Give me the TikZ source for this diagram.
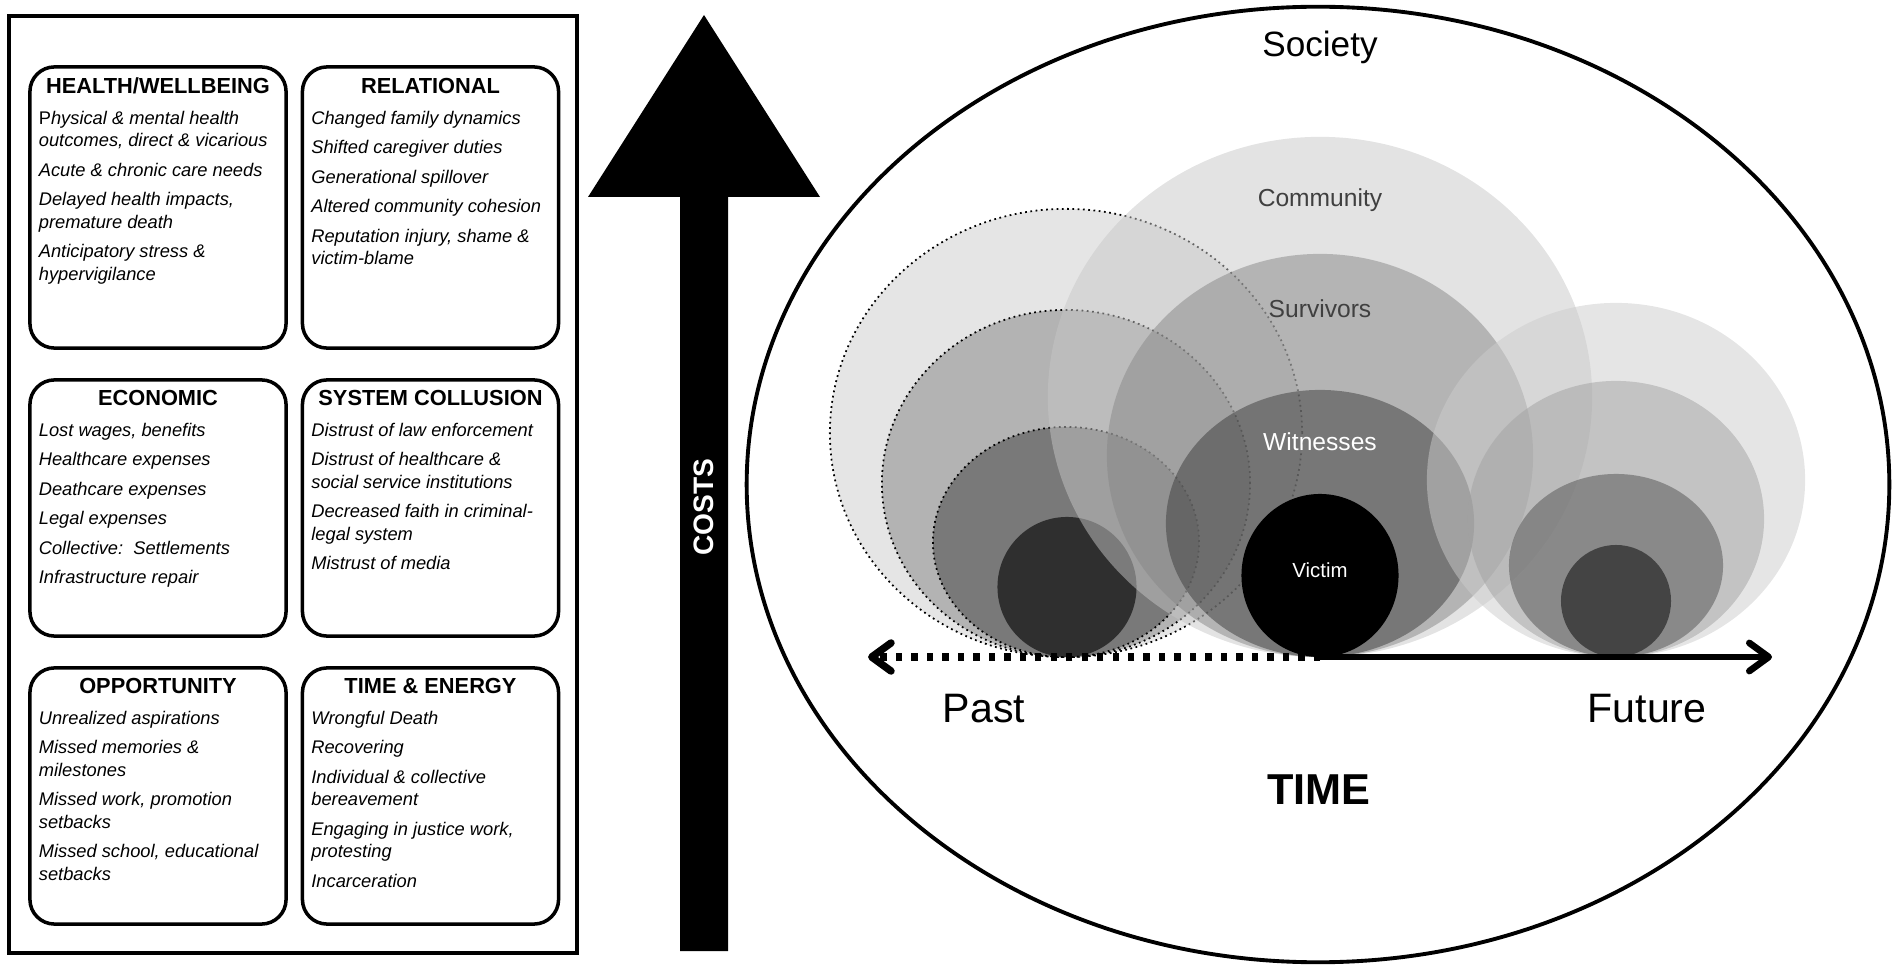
\documentclass[tikz,border=0pt]{standalone}
\usepackage{fontspec}
\setmainfont{Liberation Sans}
\usetikzlibrary{arrows.meta,positioning}

\definecolor{pastbig}{gray}{0.80}
\definecolor{pastmid}{gray}{0.51}
\definecolor{pastsmall}{gray}{0.25}
\definecolor{commgray}{gray}{0.78}
\definecolor{survgray}{gray}{0.53}
\definecolor{witgray}{gray}{0.23}
\definecolor{futbig}{gray}{0.80}
\definecolor{futmid}{gray}{0.63}
\definecolor{futsmall}{gray}{0.32}

\begin{document}
\begin{tikzpicture}[
    x=0.01cm, y=0.01cm,
    catbox/.style={draw, line width=1pt, rounded corners=7pt, inner sep=0pt, minimum width=2.56cm},
    cattitle/.style={anchor=base, inner sep=0pt, font=\fontsize{6.2}{7}\selectfont\bfseries},
    catbody/.style={anchor=north west, align=left, inner sep=0pt, font=\fontsize{5.2}{6.4}\selectfont\itshape},
    ring/.style={fill opacity=0.5},
    pastring/.style={ring, draw=black, line width=0.5pt, densely dotted},
    timeline/.style={line width=1.9pt, -{Straight Barb[length=5.5pt, width=8pt, round]}},
    lbl/.style={anchor=base, inner sep=0pt, font=\fontsize{7}{8}\selectfont}
  ]
  \useasboundingbox (0,0) rectangle (1902,972);

  % Frame round the cost categories
  \draw[line width=1pt] (9,19) rectangle (577,956);

  \node[catbox, minimum height=2.81cm] (health) at (158,764.5) {};
  \node[catbox, minimum height=2.81cm] (relational) at (430.5,764.5) {};
  \node[catbox, minimum height=2.56cm] (economic) at (158,464) {};
  \node[catbox, minimum height=2.56cm] (collusion) at (430.5,464) {};
  \node[catbox, minimum height=2.56cm] (opportunity) at (158,176) {};
  \node[catbox, minimum height=2.56cm] (energy) at (430.5,176) {};

  \node[cattitle] (healthtitle) at ([yshift=-0.28cm]health.north) {HEALTH/WELLBEING};
  \node[cattitle] (relationaltitle) at ([yshift=-0.28cm]relational.north) {RELATIONAL};
  \node[cattitle] (economictitle) at ([yshift=-0.27cm]economic.north) {ECONOMIC};
  \node[cattitle] (collusiontitle) at ([yshift=-0.27cm]collusion.north) {SYSTEM COLLUSION};
  \node[cattitle] (opportunitytitle) at ([yshift=-0.27cm]opportunity.north) {OPPORTUNITY};
  \node[cattitle] (energytitle) at ([yshift=-0.27cm]energy.north) {TIME \& ENERGY};

  \node[catbody] (healthtext) at ([xshift=0.1cm, yshift=-0.45cm]health.north west)
    {{\upshape P}hysical \& mental health\\ outcomes, direct \& vicarious\\[2pt]
     Acute \& chronic care needs\\[2pt]
     Delayed health impacts,\\ premature death\\[2pt]
     Anticipatory stress \&\\ hypervigilance};
  \node[catbody] (relationaltext) at ([xshift=0.1cm, yshift=-0.45cm]relational.north west)
    {Changed family dynamics\\[2pt]
     Shifted caregiver duties\\[2pt]
     Generational spillover\\[2pt]
     Altered community cohesion\\[2pt]
     Reputation injury, shame \&\\ victim-blame};
  \node[catbody] (economictext) at ([xshift=0.1cm, yshift=-0.44cm]economic.north west)
    {Lost wages, benefits\\[2pt]
     Healthcare expenses\\[2pt]
     Deathcare expenses\\[2pt]
     Legal expenses\\[2pt]
     Collective:\ \ Settlements\\[2pt]
     Infrastructure repair};
  \node[catbody] (collusiontext) at ([xshift=0.1cm, yshift=-0.44cm]collusion.north west)
    {Distrust of law enforcement\\[2pt]
     Distrust of healthcare \&\\ social service institutions\\[2pt]
     Decreased faith in criminal-\\ legal system\\[2pt]
     Mistrust of media};
  \node[catbody] (opportunitytext) at ([xshift=0.1cm, yshift=-0.44cm]opportunity.north west)
    {Unrealized aspirations\\[2pt]
     Missed memories \&\\ milestones\\[2pt]
     Missed work, promotion\\ setbacks\\[2pt]
     Missed school, educational\\ setbacks};
  \node[catbody] (energytext) at ([xshift=0.1cm, yshift=-0.44cm]energy.north west)
    {Wrongful Death\\[2pt]
     Recovering\\[2pt]
     Individual \& collective\\ bereavement\\[2pt]
     Engaging in justice work,\\ protesting\\[2pt]
     Incarceration};

  % Costs arrow
  \fill (704,957) -- (820,775) -- (728,775) -- (728,21) -- (680,21) -- (680,775) -- (588,775) -- cycle;
  \node[rotate=90, text=white, font=\fontsize{8}{9}\selectfont\bfseries] (costs) at (704,465) {COSTS};

  % Society
  \draw[line width=1.1pt] (1318,487.5) ellipse [x radius=5.71cm, y radius=4.775cm];
  \node[anchor=base, font=\fontsize{10}{12}\selectfont] (society) at (1320,915) {Society};

  % Past
  \path[pastring, fill=pastbig] (1066,539) ellipse [x radius=2.36cm, y radius=2.24cm];
  \path[pastring, fill=pastmid] (1066,488.5) ellipse [x radius=1.84cm, y radius=1.735cm];
  \path[pastring, fill=pastsmall] (1066,430) ellipse [x radius=1.33cm, y radius=1.15cm];
  \path[fill=black, fill opacity=0.6] (1067,385) ellipse [x radius=0.695cm, y radius=0.70cm];

  % Present
  \path[ring, fill=commgray] (1320,575) ellipse [x radius=2.72cm, y radius=2.60cm];
  \path[ring, fill=survgray] (1320,516.5) ellipse [x radius=2.13cm, y radius=2.015cm];
  \path[ring, fill=witgray] (1320,448.5) ellipse [x radius=1.54cm, y radius=1.335cm];
  \path[fill=black] (1320,396.5) ellipse [x radius=0.785cm, y radius=0.815cm];

  % Future
  \path[ring, fill=futbig] (1616,492) ellipse [x radius=1.89cm, y radius=1.77cm];
  \path[ring, fill=futmid] (1616,453) ellipse [x radius=1.48cm, y radius=1.38cm];
  \path[ring, fill=futsmall] (1616,406.5) ellipse [x radius=1.07cm, y radius=0.915cm];
  \path[fill=black, fill opacity=0.5] (1616,371) ellipse [x radius=0.55cm, y radius=0.56cm];

  \node[lbl, text=black!75] (community) at (1320,765) {Community};
  \node[lbl, text=black!75] (survivors) at (1320,654) {Survivors};
  \node[lbl, text=white] (witnesses) at (1320,521.5) {Witnesses};
  \node[lbl, text=white, font=\fontsize{5.8}{7}\selectfont] (victim) at (1320,394) {Victim};

  % Time line
  \coordinate (now) at (1320,315);
  \coordinate (pastend) at (868,315);
  \coordinate (futureend) at (1772,315);
  \draw[timeline, line width=2.1pt, dash pattern=on 1.8pt off 2.6pt] (now) -- (pastend);
  \draw[timeline] (now) -- (futureend);

  \node[anchor=base, font=\fontsize{11.7}{14}\selectfont] (pastlbl) at (984,249) {Past};
  \node[anchor=base, font=\fontsize{11.7}{14}\selectfont] (futurelbl) at (1647,249) {Future};
  \node[anchor=base, font=\fontsize{12.3}{14}\selectfont\bfseries] (timelbl) at (1319,168) {TIME};
\end{tikzpicture}
\end{document}
